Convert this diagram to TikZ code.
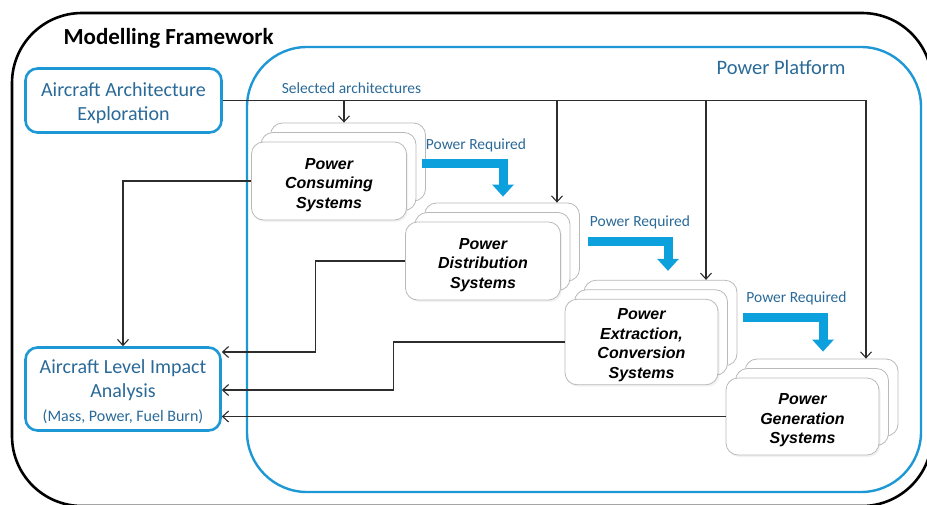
\documentclass[tikz,border=0pt]{standalone}
\usepackage{fontspec}
\setmainfont{Carlito}
\newfontfamily\arialfont{Liberation Sans}
\usetikzlibrary{arrows.meta,shadows,calc}
\definecolor{frameblue}{RGB}{30,152,212}
\definecolor{arrowblue}{RGB}{12,160,220}
\definecolor{textblue}{RGB}{42,106,152}
\definecolor{linegray}{RGB}{45,45,45}
\newcommand\mytopstrut[1]{\rule{0pt}{#1}}
\begin{document}
\begin{tikzpicture}[x=1pt,y=-1pt,
  thinarrow/.style={draw=linegray, line width=1.1pt, -{Straight Barb[length=6pt,width=11pt]}},
  thickarrow/.style={draw=arrowblue, line width=9pt, -{Triangle[length=12pt,width=21pt]}},
  bluebox/.style={draw=frameblue, line width=2.6pt, rounded corners=12pt, fill=white,
    text=textblue, align=center, font=\fontsize{20}{24}\selectfont},
  sysbox/.style={draw=gray!55, line width=0.8pt, fill=white, rounded corners=12pt,
    minimum width=155pt, minimum height=78pt, align=center,
    font=\arialfont\bfseries\itshape\fontsize{16}{19.5}\selectfont,
    copy shadow={shadow xshift=19pt, shadow yshift=19pt},
    copy shadow={shadow xshift=9.5pt, shadow yshift=9.5pt},
    drop shadow={opacity=0.1, shadow xshift=1.5pt, shadow yshift=-2pt}},
  reqlabel/.style={text=textblue, font=\fontsize{15.5}{17}\selectfont}
]
\useasboundingbox (0,0) rectangle (927,504);
\begin{scope}
\clip (0,0) rectangle (927,504);
\draw[black, line width=2.6pt, rounded corners=70pt] (12,13) rectangle (932,506);
\end{scope}
\draw[frameblue, line width=2.4pt, rounded corners=60pt] (247,47) rectangle (921,492);

\node[font=\bfseries\fontsize{23}{26}\selectfont, anchor=west] (mf) at (60,38) {Modelling Framework};
\node[text=textblue, font=\fontsize{20.5}{22}\selectfont, anchor=east] (pp) at (849,67) {Power Platform};
\node[reqlabel] (sa) at (351.5,88.5) {Selected architectures};

\node[bluebox, minimum width=196pt, minimum height=64pt] (aae) at (123.5,100.5) {\mytopstrut{19pt}Aircraft Architecture\\Exploration};
\node[bluebox, minimum width=195pt, minimum height=83pt] (alia) at (123,389)
  {\mytopstrut{19pt}Aircraft Level Impact\\Analysis\\[0pt]{\fontsize{16}{18}\selectfont (Mass, Power, Fuel Burn)}};

\node[sysbox] (pcs) at (329,181) {\mytopstrut{19pt}Power\\Consuming\\Systems};
\node[sysbox] (pds) at (483,261) {\mytopstrut{19pt}Power\\Distribution\\Systems};
\node[sysbox, minimum width=153pt] (pecs) at (641.5,342) {\mytopstrut{17pt}Power\\Extraction,\\Conversion\\Systems};
\node[sysbox, minimum width=153pt, minimum height=77pt] (pgs) at (802.5,416.5) {\mytopstrut{19pt}Power\\Generation\\Systems};

\node[reqlabel] (pr1) at (476,145) {Power Required};
\node[reqlabel] (pr2) at (640,222) {Power Required};
\node[reqlabel] (pr3) at (796.5,298) {Power Required};

\coordinate (pcsin) at ($(pcs.north)+(15,-19)$);
\coordinate (pdsin) at ($(pds.north)+(74,-19)$);
\coordinate (pecsin) at ($(pecs.north)+(64.5,-19)$);
\coordinate (pgsin) at ($(pgs.north)+(63.5,-19)$);

\draw[thinarrow] (aae.east) -| (pgsin);
\draw[thinarrow] (aae.east -| pcsin) -- (pcsin);
\draw[thinarrow] (aae.east -| pdsin) -- (pdsin);
\draw[thinarrow] (aae.east -| pecsin) -- (pecsin);

\draw[thinarrow] (pcs.west) -| (alia.north);
\draw[thinarrow] (pds.west) -- ++(-90,0) |- ($(alia.east)+(0,-37)$);
\draw[thinarrow] (pecs.west) -- ++(-171,0) |- ($(alia.east)+(0,1)$);
\draw[thinarrow] (pgs.west) -- (pgs.west -| alia.east);

\draw[thickarrow] ($(pcs.east)+(15.5,-17.5)$) -| ($(pds.north)+(20,-25)$);
\draw[thickarrow] ($(pds.east)+(27.5,-19.5)$) -| ($(pecs.north)+(26.5,-28)$);
\draw[thickarrow] ($(pecs.east)+(25,-24.5)$) -| ($(pgs.north)+(20.5,-26)$);
\end{tikzpicture}
\end{document}
